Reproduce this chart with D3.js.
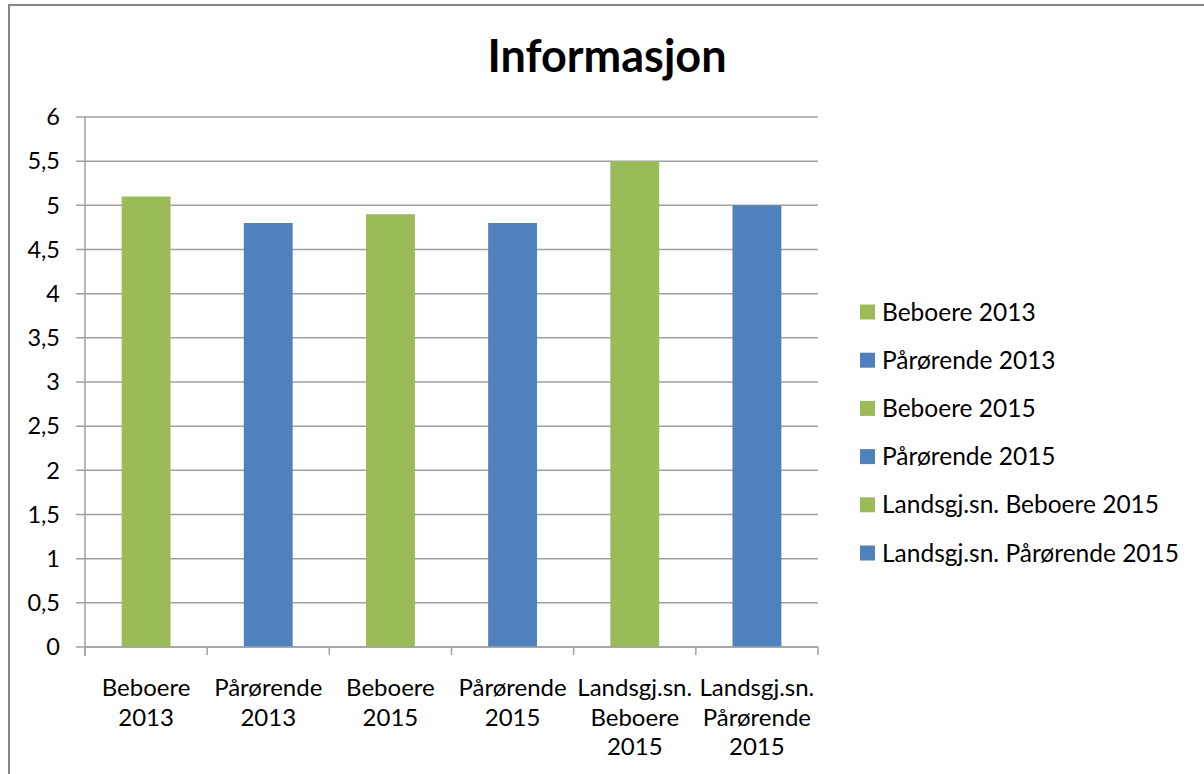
<!DOCTYPE html>
<html>
<head>
<meta charset="utf-8">
<script src="https://cdn.jsdelivr.net/npm/d3@7"></script>
<style>
html,body{margin:0;padding:0;background:#fff;}
svg{display:block;}
text{font-family:Lato,"Open Sans",sans-serif;fill:#000;}
</style>
</head>
<body>
<svg id="chart" width="1204" height="774"></svg>
<script>
const categories = [["Beboere","2013"],["Pårørende","2013"],["Beboere","2015"],["Pårørende","2015"],["Landsgj.sn.","Beboere","2015"],["Landsgj.sn.","Pårørende","2015"]];
const seriesNames = ["Beboere 2013","Pårørende 2013","Beboere 2015","Pårørende 2015","Landsgj.sn. Beboere 2015","Landsgj.sn. Pårørende 2015"];
const values = [5.1, 4.8, 4.9, 4.8, 5.5, 5.0];
const colors = ["#9BBB59","#4F81BD","#9BBB59","#4F81BD","#9BBB59","#4F81BD"];
const yTicks = [0,0.5,1,1.5,2,2.5,3,3.5,4,4.5,5,5.5,6];
const title = "Informasjon";

(function(){
const svg = d3.select("#chart");
// outer border
svg.append("rect").attr("x",9).attr("y",5).attr("width",1204).attr("height",800)
  .attr("fill","#fff").attr("stroke","#868686").attr("stroke-width",2);

const pl=85, pr=818, pt=117, pb=647;
const x = d3.scaleBand().domain(d3.range(categories.length)).range([pl,pr]).paddingInner(0.6).paddingOuter(0.3);
const xb = d3.scaleBand().domain(d3.range(categories.length)).range([pl,pr]);
const y = d3.scaleLinear().domain([0,6]).range([pb,pt]);

// gridlines
svg.append("g").selectAll("line").data(yTicks).join("line")
  .attr("x1",76).attr("x2",pr).attr("y1",d=>y(d)).attr("y2",d=>y(d))
  .attr("stroke","#A0A0A0").attr("stroke-width",1.5);

// y axis line
svg.append("line").attr("x1",pl).attr("x2",pl).attr("y1",pt).attr("y2",pb+9)
  .attr("stroke","#A0A0A0").attr("stroke-width",1.5);

// y labels
svg.append("g").selectAll("text").data(yTicks).join("text")
  .attr("x",60).attr("y",d=>y(d)).attr("dy","0.35em").attr("text-anchor","end")
  .attr("font-size",23.5).text(d=>String(d).replace(".",","));

// bars
svg.append("g").selectAll("rect").data(values).join("rect")
  .attr("x",(d,i)=>x(i)).attr("width",x.bandwidth())
  .attr("y",d=>y(d)).attr("height",d=>y(0)-y(d))
  .attr("fill",(d,i)=>colors[i]);

// x axis ticks
const tickPos = d3.range(categories.length).map(i=>xb(i)).concat([pr]);
svg.append("g").selectAll("line").data(tickPos).join("line")
  .attr("x1",d=>d).attr("x2",d=>d).attr("y1",pb).attr("y2",pb+8)
  .attr("stroke","#A0A0A0").attr("stroke-width",1.5);
svg.append("line").attr("x1",pl).attr("x2",pr).attr("y1",pb).attr("y2",pb)
  .attr("stroke","#A0A0A0").attr("stroke-width",1.5);

// x labels
const xl = svg.append("g").selectAll("text").data(categories).join("text")
  .attr("x",(d,i)=>xb(i)+xb.bandwidth()/2).attr("y",696).attr("text-anchor","middle").attr("font-size",24);
xl.selectAll("tspan").data(d=>d).join("tspan")
  .attr("x",function(){return d3.select(this.parentNode).attr("x");})
  .attr("dy",(d,i)=>i===0?0:29.5).text(d=>d);

// title
svg.append("text").attr("x",607).attr("y",72).attr("text-anchor","middle")
  .attr("font-size",45).attr("font-weight","bold").text(title);

// legend
const lg = svg.append("g").selectAll("g").data(seriesNames).join("g")
  .attr("transform",(d,i)=>`translate(860,${312+i*48.2})`);
lg.append("rect").attr("x",0).attr("y",-7.5).attr("width",15).attr("height",15).attr("fill",(d,i)=>colors[i]);
lg.append("text").attr("x",22).attr("y",0).attr("dy","0.35em").attr("font-size",24.5).text(d=>d);
})();
</script>
</body>
</html>
